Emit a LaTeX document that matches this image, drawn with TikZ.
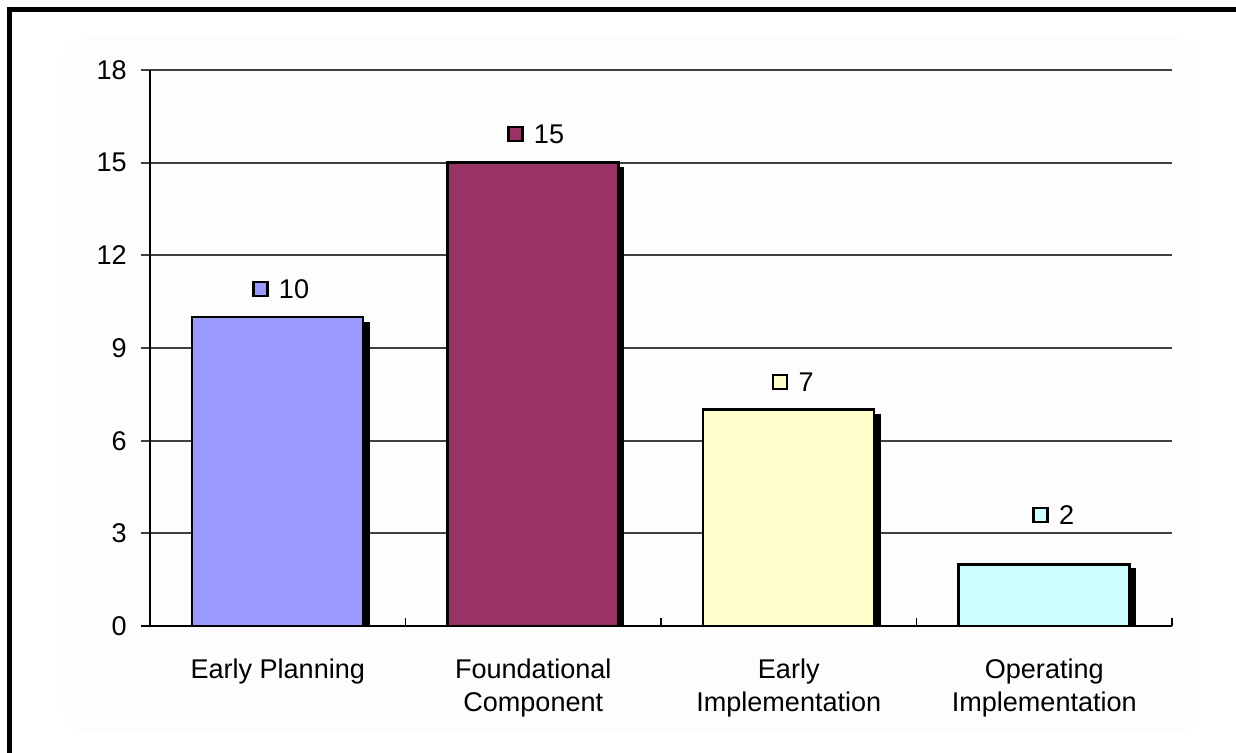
\documentclass[tikz,border=0pt]{standalone}
\usepackage{fontspec}
\setmainfont{Liberation Sans}
\usetikzlibrary{positioning}
\definecolor{planblue}{HTML}{9999FF}
\definecolor{foundred}{HTML}{993366}
\definecolor{implyellow}{HTML}{FFFFCC}
\definecolor{opercyan}{HTML}{CCFFFF}
\tikzset{bar/.style={draw=black, line width=1.5pt}, barshadow/.style={fill=black, draw=none},
  grid/.style={draw=black!75, line width=1pt}, axis/.style={draw=black, line width=1pt},
  ylab/.style={anchor=east, inner sep=0pt}, xlab/.style={anchor=north, align=center, inner sep=0pt},
  valmark/.style={draw=black, line width=1.3pt, minimum size=0.28cm, inner sep=0pt},
  val/.style={right=0.2cm of #1, inner sep=0pt}}

\begin{document}
\begin{tikzpicture}[x=0.02cm, y=-0.02cm, font=\fontsize{15.4}{18.4}\selectfont]
    \useasboundingbox (0,0) rectangle (1236,753);
    \clip (0,0) rectangle (1236,753);
    \fill[white] (0,0) rectangle (1236,753);
    \fill[black!0.8, rounded corners=0.5cm] (63,37) rectangle (1200,732);
    \draw[line width=2.4pt] (9.5,753) |- (1236,9.5);

    % gridlines and y axis
    \draw[grid] (141,70)    -- (1172,70);
    \draw[grid] (141,162.7) -- (1172,162.7);
    \draw[grid] (141,255.3) -- (1172,255.3);
    \draw[grid] (141,348)   -- (1172,348);
    \draw[grid] (141,440.7) -- (1172,440.7);
    \draw[grid] (141,533.3) -- (1172,533.3);
    \draw[axis] (141,626)   -- (1172,626);
    \draw[axis] (150,70)    -- (150,626);
    \draw[axis] (405.5,618) -- (405.5,626);
    \draw[axis] (661,618)   -- (661,626);
    \draw[axis] (916.5,618) -- (916.5,626);
    \draw[axis] (1172,618)  -- (1172,626);

    \node[ylab] (y18) at (127,70)    {18};
    \node[ylab] (y15) at (127,162.7) {15};
    \node[ylab] (y12) at (127,255.3) {12};
    \node[ylab] (y9)  at (127,348)   {9};
    \node[ylab] (y6)  at (127,440.7) {6};
    \node[ylab] (y3)  at (127,533.3) {3};
    \node[ylab] (y0)  at (127,626)   {0};

    % bars with their shadows
    \fill[barshadow] (363,322) rectangle (370,626);
    \filldraw[bar, fill=planblue] (192,626) rectangle (363,317.1);
    \fill[barshadow] (617,167) rectangle (624,626);
    \filldraw[bar, fill=foundred] (447.5,626) rectangle (618.5,162.7);
    \fill[barshadow] (874,414) rectangle (881,626);
    \filldraw[bar, fill=implyellow] (703,626) rectangle (874,409.8);
    \fill[barshadow] (1129,568) rectangle (1136,626);
    \filldraw[bar, fill=opercyan] (958.5,626) rectangle (1129.5,564.2);

    % value labels
    \node[valmark, fill=planblue]   (m1) at (260.5,289) {};
    \node[val=m1]                   (v1) {10};
    \node[valmark, fill=foundred]   (m2) at (515.5,134) {};
    \node[val=m2]                   (v2) {15};
    \node[valmark, fill=implyellow] (m3) at (780,382)   {};
    \node[val=m3]                   (v3) {7};
    \node[valmark, fill=opercyan]   (m4) at (1040.5,515) {};
    \node[val=m4]                   (v4) {2};

    % category labels
    \node[xlab] (c1) at (277.75,659) {Early Planning};
    \node[xlab] (c2) at (533.25,659) {Foundational\\Component};
    \node[xlab] (c3) at (788.75,659) {Early\\Implementation};
    \node[xlab] (c4) at (1044.25,659) {Operating\\Implementation};
\end{tikzpicture}
\end{document}
